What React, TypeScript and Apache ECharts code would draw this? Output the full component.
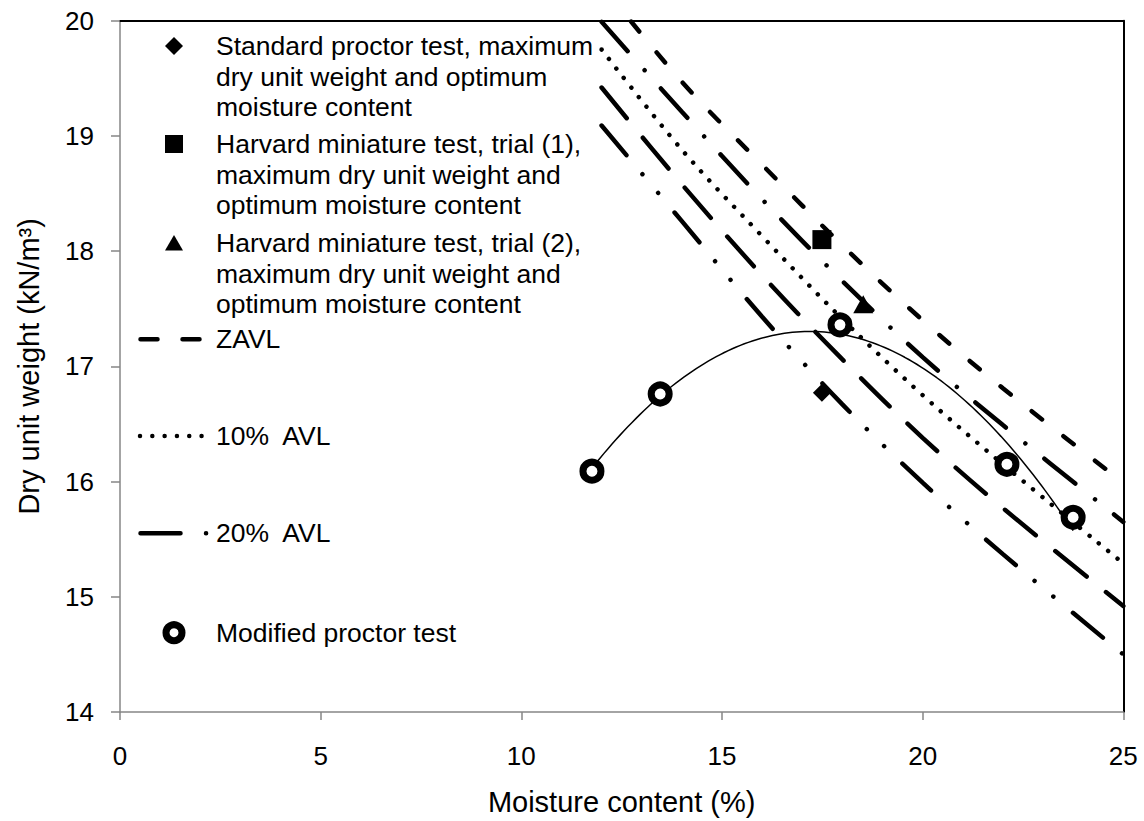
import React, { useEffect, useRef } from 'react';
import * as echarts from 'echarts';

// Moisture content (%) at which the air-void lines are tabulated
const moistureGrid = [12, 14, 16, 18, 20, 22, 25];

// Dry unit weight (kN/m3) along each air-void line
const zavl = [20.31, 19.47, 18.75, 18.05, 17.4, 16.81, 15.99];
const avlDashDot = [19.99, 19.21, 18.45, 17.74, 17.08, 16.49, 15.65];
const avl10 = [19.75, 18.88, 18.13, 17.41, 16.75, 16.15, 15.29];
const avlLongDash = [19.42, 18.58, 17.79, 17.06, 16.38, 15.77, 14.92];
const avl20 = [19.09, 18.26, 17.43, 16.67, 15.99, 15.37, 14.5];

// Modified proctor test results
const modifiedMoisture = [11.76, 13.46, 17.94, 22.1, 23.75];
const modifiedDryWeight = [16.09, 16.76, 17.36, 16.15, 15.69];

// Maximum dry unit weight / optimum moisture content points
const standardProctor = [17.49, 16.77];
const harvardTrial1 = [17.49, 18.1];
const harvardTrial2 = [18.52, 17.54];

// Axis ticks
const xTickValues = [0, 5, 10, 15, 20, 25];
const yTickValues = [14, 15, 16, 17, 18, 19, 20];

// Legend captions
const legendLabels = [
  'Standard proctor test, maximum\ndry unit weight and optimum\nmoisture content',
  'Harvard miniature test, trial (1),\nmaximum dry unit weight and\noptimum moisture content',
  'Harvard miniature test, trial (2),\nmaximum dry unit weight and\noptimum moisture content',
  'ZAVL',
  '10%  AVL',
  '20%  AVL',
  'Modified proctor test',
];

const FONT = '"Liberation Sans", Arial, Helvetica, sans-serif';
const AXIS_GRAY = '#868686';

const pairs = (xs: number[], ys: number[]) => xs.map((x, i) => [x, ys[i]]);

// Second-order least-squares trendline through the modified proctor results
function quadraticTrend(xs: number[], ys: number[], steps: number) {
  const s = [0, 0, 0, 0, 0];
  const t = [0, 0, 0];
  xs.forEach((x, i) => {
    for (let k = 0; k < 5; k++) s[k] += Math.pow(x, k);
    for (let k = 0; k < 3; k++) t[k] += ys[i] * Math.pow(x, k);
  });
  const m = [
    [s[0], s[1], s[2], t[0]],
    [s[1], s[2], s[3], t[1]],
    [s[2], s[3], s[4], t[2]],
  ];
  for (let c = 0; c < 3; c++) {
    for (let r = c + 1; r < 3; r++) {
      const f = m[r][c] / m[c][c];
      for (let k = c; k < 4; k++) m[r][k] -= f * m[c][k];
    }
  }
  const coef = [0, 0, 0];
  for (let r = 2; r >= 0; r--) {
    let v = m[r][3];
    for (let k = r + 1; k < 3; k++) v -= m[r][k] * coef[k];
    coef[r] = v / m[r][r];
  }
  const lo = Math.min(...xs);
  const hi = Math.max(...xs);
  const out: number[][] = [];
  for (let i = 0; i <= steps; i++) {
    const x = lo + ((hi - lo) * i) / steps;
    out.push([x, coef[0] + coef[1] * x + coef[2] * x * x]);
  }
  return out;
}

function avlSeries(name: string, ys: number[], dash: number[], dashOffset = 0) {
  return {
    name,
    type: 'line',
    data: pairs(moistureGrid, ys),
    smooth: 0.35,
    showSymbol: false,
    symbol: 'none',
    clip: true,
    z: 3,
    lineStyle: { color: '#000', width: 4.5, type: dash, cap: 'round', dashOffset },
  };
}

function markerSeries(name: string, point: number[], symbol: string, size: number | number[]) {
  return {
    name,
    type: 'scatter',
    data: [point],
    symbol,
    symbolSize: size,
    itemStyle: { color: '#000', opacity: 1 },
    z: 2,
  };
}

function buildOption() {
  const axisFont = { fontFamily: FONT, fontSize: 26, color: '#000' };
  const legendText = (i: number, y: number) => ({
    type: 'text',
    x: 216,
    y,
    z: 20,
    style: {
      text: legendLabels[i],
      fontFamily: FONT,
      fontSize: 26.5,
      lineHeight: 30.6,
      fill: '#000',
      align: 'left',
      verticalAlign: 'top',
    },
  });
  return {
    animation: false,
    backgroundColor: '#fff',
    grid: { left: 120, right: 20.7, top: 20.7, bottom: 108.7, containLabel: false },
    xAxis: [
      {
        type: 'value',
        min: xTickValues[0],
        max: xTickValues[xTickValues.length - 1],
        interval: xTickValues[1] - xTickValues[0],
        name: 'Moisture content (%)',
        nameLocation: 'middle',
        nameGap: 75,
        nameTextStyle: { fontFamily: FONT, fontSize: 29, color: '#000' },
        axisLine: { show: true, onZero: false, lineStyle: { color: AXIS_GRAY, width: 1.5 } },
        axisTick: { show: true, length: 8, lineStyle: { color: AXIS_GRAY, width: 1.5 } },
        axisLabel: { ...axisFont, margin: 31 },
        splitLine: { show: false },
      },
      {
        type: 'value',
        position: 'top',
        min: xTickValues[0],
        max: xTickValues[xTickValues.length - 1],
        axisLine: { show: true, onZero: false, lineStyle: { color: '#000', width: 2 } },
        axisTick: { show: false },
        axisLabel: { show: false },
        splitLine: { show: false },
      },
    ],
    yAxis: [
      {
        type: 'value',
        min: yTickValues[0],
        max: yTickValues[yTickValues.length - 1],
        interval: yTickValues[1] - yTickValues[0],
        name: 'Dry unit weight (kN/m³)',
        nameLocation: 'middle',
        nameRotate: 90,
        nameGap: 77,
        nameTextStyle: { fontFamily: FONT, fontSize: 29, color: '#000' },
        axisLine: { show: true, onZero: false, lineStyle: { color: AXIS_GRAY, width: 1.5 } },
        axisTick: { show: true, length: 9, lineStyle: { color: AXIS_GRAY, width: 1.5 } },
        axisLabel: { ...axisFont, margin: 26 },
        splitLine: { show: false },
      },
      {
        type: 'value',
        position: 'right',
        min: yTickValues[0],
        max: yTickValues[yTickValues.length - 1],
        axisLine: { show: true, onZero: false, lineStyle: { color: '#000', width: 2 } },
        axisTick: { show: false },
        axisLabel: { show: false },
        splitLine: { show: false },
      },
    ],
    series: [
      markerSeries('Standard proctor test', standardProctor, 'diamond', 18),
      markerSeries('Harvard miniature test, trial (1)', harvardTrial1, 'rect', 19),
      markerSeries('Harvard miniature test, trial (2)', harvardTrial2, 'triangle', [20, 18]),
      avlSeries('ZAVL', zavl, [13, 27], 33),
      avlSeries('AVL long dash-dot', avlDashDot, [39.5, 25.25, 0.01, 24.25]),
      avlSeries('10% AVL', avl10, [0.01, 12.1]),
      avlSeries('AVL long dash', avlLongDash, [40, 25]),
      avlSeries('20% AVL', avl20, [39, 24.6, 0.01, 24.3, 0.01, 25.3]),
      {
        name: 'Modified proctor trend',
        type: 'line',
        data: quadraticTrend(modifiedMoisture, modifiedDryWeight, 120),
        showSymbol: false,
        symbol: 'none',
        z: 4,
        lineStyle: { color: '#000', width: 1.5 },
      },
      {
        name: 'Modified proctor test',
        type: 'scatter',
        data: pairs(modifiedMoisture, modifiedDryWeight),
        symbol: 'circle',
        symbolSize: 18,
        itemStyle: { color: '#fff', borderColor: '#000', borderWidth: 7, opacity: 1 },
        z: 5,
      },
    ],
    graphic: [
      // legend markers
      {
        type: 'polygon',
        z: 20,
        shape: { points: [[165, 46], [174, 37], [183, 46], [174, 55]] },
        style: { fill: '#000' },
      },
      { type: 'rect', z: 20, shape: { x: 165, y: 135, width: 18, height: 18 }, style: { fill: '#000' } },
      {
        type: 'polygon',
        z: 20,
        shape: { points: [[165, 250.5], [183, 250.5], [174, 235]] },
        style: { fill: '#000' },
      },
      {
        type: 'line',
        z: 20,
        shape: { x1: 140.5, y1: 339.3, x2: 200, y2: 339.3 },
        style: { stroke: '#000', lineWidth: 4.5, lineDash: [17, 25], lineCap: 'round' },
      },
      {
        type: 'line',
        z: 20,
        shape: { x1: 140, y1: 436, x2: 202, y2: 436 },
        style: { stroke: '#000', lineWidth: 4.5, lineDash: [0.01, 12.3], lineCap: 'round' },
      },
      {
        type: 'line',
        z: 20,
        shape: { x1: 140.5, y1: 533.3, x2: 206.1, y2: 533.3 },
        style: { stroke: '#000', lineWidth: 4.5, lineDash: [40, 25.5], lineCap: 'round' },
      },
      {
        type: 'circle',
        z: 20,
        shape: { cx: 174, cy: 632.7, r: 8 },
        style: { fill: '#fff', stroke: '#000', lineWidth: 7 },
      },
      // legend captions
      legendText(0, 30.7),
      legendText(1, 128.7),
      legendText(2, 227.7),
      legendText(3, 324),
      legendText(4, 420.7),
      legendText(5, 518),
      legendText(6, 617.4),
    ],
  };
}

export default function App() {
  const ref = useRef<HTMLDivElement>(null);
  useEffect(() => {
    if (!ref.current) return;
    const chart = echarts.init(ref.current, null, { renderer: 'svg' });
    chart.setOption(buildOption() as any);
    return () => chart.dispose();
  }, []);
  return (
    <div
      ref={ref}
      style={{ position: 'fixed', left: 0, top: 0, width: 1144, height: 821, background: '#fff' }}
    />
  );
}
